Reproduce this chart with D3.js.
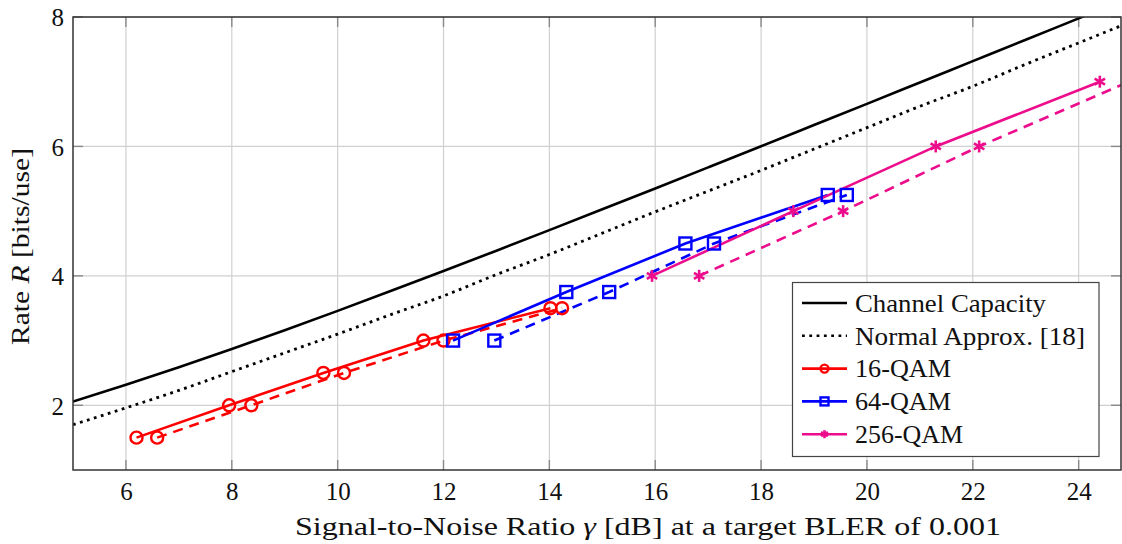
<!DOCTYPE html>
<html>
<head>
<meta charset="utf-8">
<script src="https://cdn.jsdelivr.net/npm/d3@7"></script>
<style>
  html, body { margin:0; padding:0; background:#fff; }
  svg { display:block; font-family:"Liberation Serif","DejaVu Serif",serif; }
</style>
</head>
<body>
<div id="chart"></div>
<script>
// data

const snrGrid = [5,6,7,8,9,10,11,12,13,14,15,16,17,18,19,20,21,22,23,24,25];
const capacity = [2.057,2.316,2.588,2.870,3.161,3.459,3.765,4.075,4.389,4.707,5.028,5.351,5.676,6.002,6.330,6.658,6.988,7.318,7.648,7.979,8.309];
const normalApprox = [1.70,1.96,2.23,2.52,2.81,3.10,3.40,3.69,4.02,4.33,4.66,4.99,5.31,5.63,5.96,6.29,6.62,6.93,7.27,7.60,7.93];

// 16-QAM
const qam16Rate = [1.5,2,2.5,3,3.5];
const qam16Solid = [6.20,7.95,9.73,11.62,14.02];
const qam16Dashed = [6.59,8.37,10.12,12.00,14.24];
// 64-QAM
const qam64Rate = [3,3.75,4.5,5.25];
const qam64Solid = [12.18,14.32,16.57,19.26];
const qam64Dashed = [12.96,15.13,17.11,19.62];
// 256-QAM
const qam256Rate = [4,5,6,7];
const qam256Solid = [15.94,18.61,21.30,24.40];
const qam256Dashed = [16.83,19.55,22.12,24.95];

const xTicks = [6,8,10,12,14,16,18,20,22,24];
const yTicks = [2,4,6,8];
const legendLabels = ['Channel Capacity','Normal Approx. [18]','16-QAM','64-QAM','256-QAM'];
const legendWidths = [191, 230, 96, 96, 108];   // measured text extents in the reference

// ---- layout
const W = 1122, H = 544;
const m = {left:73, right:1121, top:17, bottom:470};

const x = d3.scaleLinear().domain([5, 24.8]).range([m.left, m.right]);
const y = d3.scaleLinear().domain([1, 8]).range([m.bottom, m.top]);

const svg = d3.select('#chart').append('svg').attr('width', W).attr('height', H);

svg.append('defs').append('clipPath').attr('id','plotclip')
  .append('rect').attr('x', m.left).attr('y', m.top).attr('width', m.right-m.left).attr('height', m.bottom-m.top);

// grid
const grid = svg.append('g').attr('stroke','#d0d0d0').attr('stroke-width',1.2);
xTicks.forEach(t => grid.append('line').attr('x1',x(t)).attr('x2',x(t)).attr('y1',m.top).attr('y2',m.bottom));
yTicks.forEach(t => grid.append('line').attr('x1',m.left).attr('x2',m.right).attr('y1',y(t)).attr('y2',y(t)));

// inner tick marks (pgfplots style)
const tk = svg.append('g').attr('stroke','#8a8a8a').attr('stroke-width',1.4);
xTicks.forEach(t => {
  tk.append('line').attr('x1',x(t)).attr('x2',x(t)).attr('y1',m.bottom).attr('y2',m.bottom-10);
  tk.append('line').attr('x1',x(t)).attr('x2',x(t)).attr('y1',m.top).attr('y2',m.top+10);
});
yTicks.forEach(t => {
  tk.append('line').attr('x1',m.left).attr('x2',m.left+10).attr('y1',y(t)).attr('y2',y(t));
  tk.append('line').attr('x1',m.right).attr('x2',m.right-10).attr('y1',y(t)).attr('y2',y(t));
});

// tick labels via d3 axes, domain/ticks hidden
const xAxis = svg.append('g').attr('transform',`translate(0,${m.bottom})`)
  .call(d3.axisBottom(x).tickValues(xTicks).tickSize(0).tickPadding(12).tickFormat(d3.format('d')));
const yAxis = svg.append('g').attr('transform',`translate(${m.left},0)`)
  .call(d3.axisLeft(y).tickValues(yTicks).tickSize(0).tickPadding(9).tickFormat(d3.format('d')));
[xAxis, yAxis].forEach(a => {
  a.select('.domain').remove();
  a.selectAll('text').attr('font-family','"Liberation Serif",serif').attr('font-size',25).attr('fill','#111');
});
yAxis.selectAll('text').attr('dy','0.35em');

// series
const plot = svg.append('g').attr('clip-path','url(#plotclip)');
const line = d3.line().x(d => x(d[0])).y(d => y(d[1]));
const zip = (xs, ys) => xs.map((v,i) => [v, ys[i]]);

plot.append('path').datum(zip(snrGrid, capacity)).attr('d', line.curve(d3.curveMonotoneX))
  .attr('fill','none').attr('stroke','#000').attr('stroke-width',2.6);
plot.append('path').datum(zip(snrGrid, normalApprox)).attr('d', line.curve(d3.curveMonotoneX))
  .attr('fill','none').attr('stroke','#000').attr('stroke-width',2.8).attr('stroke-dasharray','2.8,4.5');
line.curve(d3.curveLinear);

const series = [
  {pts: zip(qam16Solid, qam16Rate), color:'#ff0000', dash:null, mk:'circle'},
  {pts: zip(qam16Dashed, qam16Rate), color:'#ff0000', dash:'10,7', mk:'circle'},
  {pts: zip(qam64Solid, qam64Rate), color:'#0000ff', dash:null, mk:'square'},
  {pts: zip(qam64Dashed, qam64Rate), color:'#0000ff', dash:'10,7', mk:'square'},
  {pts: zip(qam256Solid, qam256Rate), color:'#ec0c8c', dash:null, mk:'star'},
  {pts: zip(qam256Dashed, qam256Rate), color:'#ec0c8c', dash:'10,7', mk:'star'}
];

function marker(g, kind, cx, cy, s, color){
  if(kind === 'circle'){
    g.append('circle').attr('cx',cx).attr('cy',cy).attr('r',s).attr('fill','none').attr('stroke',color).attr('stroke-width',2.4);
  } else if(kind === 'square'){
    g.append('rect').attr('x',cx-s).attr('y',cy-s).attr('width',2*s).attr('height',2*s).attr('fill','none').attr('stroke',color).attr('stroke-width',2.4);
  } else {
    [90, 30, 150].forEach(a => {
      const r = a*Math.PI/180, dx = Math.cos(r)*s, dy = Math.sin(r)*s;
      g.append('line').attr('x1',cx-dx).attr('y1',cy-dy).attr('x2',cx+dx).attr('y2',cy+dy).attr('stroke',color).attr('stroke-width',2.6);
    });
  }
}

series.forEach(s => {
  plot.append('path').datum(s.pts).attr('d', line).attr('fill','none').attr('stroke',s.color)
    .attr('stroke-width',2.6).attr('stroke-dasharray', s.dash);
});
series.forEach(s => {
  s.pts.forEach(p => marker(plot, s.mk, x(p[0]), y(p[1]), 6, s.color));
});

// frame
svg.append('rect').attr('x',m.left).attr('y',m.top).attr('width',m.right-m.left).attr('height',m.bottom-m.top)
  .attr('fill','none').attr('stroke','#333').attr('stroke-width',1.5);

// axis labels (the reference text runs wider than plain Times, so stretch to its extent)
svg.append('text').attr('x',295).attr('y',535)
  .attr('font-size',25).attr('fill','#111')
  .attr('textLength',706).attr('lengthAdjust','spacingAndGlyphs')
  .html('Signal-to-Noise Ratio <tspan font-style="italic">γ</tspan> [dB] at a target BLER of 0.001');
svg.append('text').attr('transform',`translate(29,${345}) rotate(-90)`)
  .attr('font-size',25).attr('fill','#111')
  .attr('textLength',197).attr('lengthAdjust','spacingAndGlyphs')
  .html('Rate <tspan font-style="italic">R</tspan> [bits/use]');

// legend
const lg = svg.append('g');
lg.append('rect').attr('x',792.5).attr('y',282.5).attr('width',306.5).attr('height',174)
  .attr('fill','#fff').attr('stroke','#444').attr('stroke-width',1.2);
const legendStyles = [
  {color:'#000', dash:null, mk:null},
  {color:'#000', dash:'2.8,4.5', mk:null},
  {color:'#ff0000', dash:null, mk:'circle'},
  {color:'#0000ff', dash:null, mk:'square'},
  {color:'#ec0c8c', dash:null, mk:'star'}
];
legendLabels.forEach((lab, i) => {
  const cy = 303 + i*32.8;
  const st = legendStyles[i];
  lg.append('line').attr('x1',802).attr('x2',847).attr('y1',cy).attr('y2',cy)
    .attr('stroke',st.color).attr('stroke-width',2.6).attr('stroke-dasharray',st.dash);
  if(st.mk) marker(lg, st.mk, 824.5, cy, 4, st.color);
  lg.append('text').attr('x',855).attr('y',cy).attr('dy','0.35em').attr('font-size',25).attr('fill','#111')
    .attr('textLength',legendWidths[i]).attr('lengthAdjust','spacingAndGlyphs').text(lab);
});
</script>
</body>
</html>
